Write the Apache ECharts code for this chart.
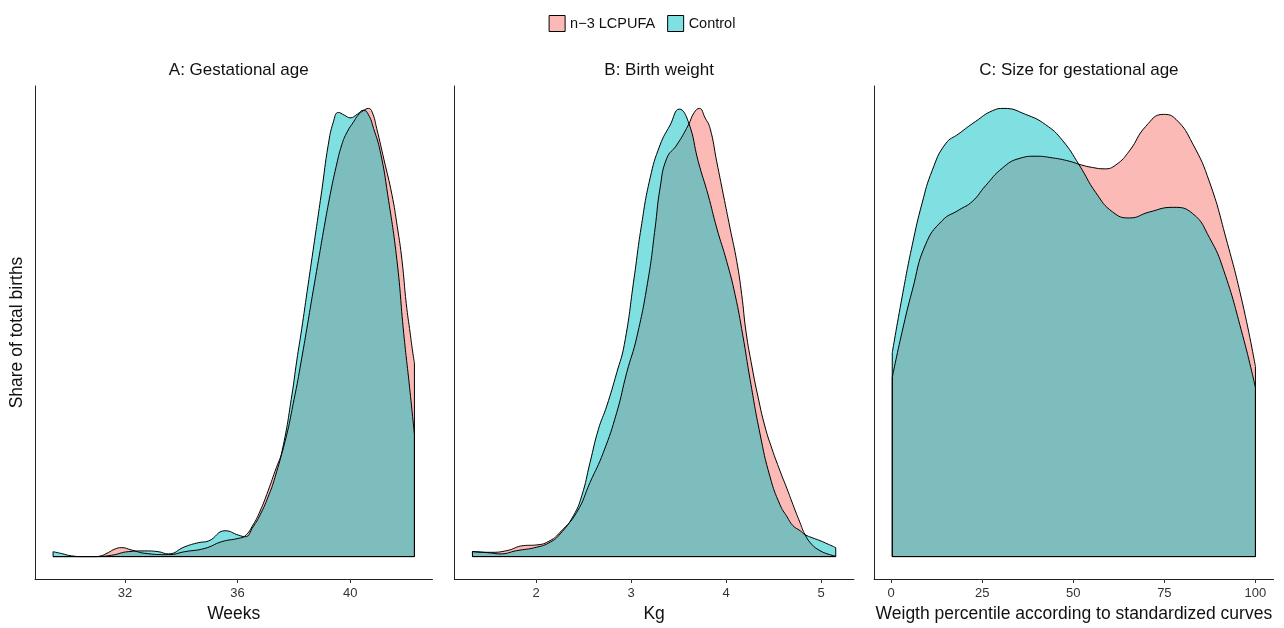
<!DOCTYPE html>
<html><head><meta charset="utf-8">
<script src="https://cdn.jsdelivr.net/npm/echarts@6/dist/echarts.min.js"></script>
<style>html,body{margin:0;padding:0;background:#fff}#c{width:1284px;height:628px}</style>
</head><body><div id="c"></div>
<script>
// ---- data ----
const seriesNames = ['n\u22123 LCPUFA', 'Control'];
const panelTitles = ['A: Gestational age', 'B: Birth weight', 'C: Size for gestational age'];
const xAxisTitles = ['Weeks', 'Kg', 'Weigth percentile according to standardized curves'];
const yAxisTitle = 'Share of total births';
const ticksA = [32, 36, 40];
const ticksB = [2, 3, 4, 5];
const ticksC = [0, 25, 50, 75, 100];

// A: gestational age (weeks, density)
const gaN3 = [[29.45,0],[30.93,0],[31.11,0.0003],[31.41,0.0027],[31.64,0.0050],[31.88,0.0060],[32.24,0.0044],[32.71,0.0022],[33.54,0.0013],[34.13,0.0033],[34.84,0.0055],[35.44,0.0100],[36.03,0.0122],[36.27,0.0139],[36.55,0.0212],[36.80,0.0305],[37.08,0.0438],[37.33,0.0571],[37.63,0.0730],[38.04,0.1084],[38.28,0.1330],[38.46,0.1527],[38.65,0.1740],[38.87,0.1981],[39.08,0.2210],[39.29,0.2424],[39.50,0.2610],[39.70,0.2756],[39.89,0.2842],[40.12,0.2910],[40.28,0.2955],[40.47,0.2985],[40.65,0.3000],[40.78,0.2975],[40.94,0.2866],[41.20,0.2656],[41.48,0.2424],[41.67,0.2210],[41.84,0.1981],[41.99,0.1693],[42.13,0.1494],[42.20,0.1394],[42.28,0.1295]];
const gaControl = [[29.45,0.0033],[29.76,0.0020],[30.10,0.0005],[30.51,0],[30.93,0],[31.53,0.0009],[32.12,0.0033],[32.71,0.0038],[33.18,0.0033],[33.54,0.0018],[34.13,0.0066],[34.61,0.0093],[34.96,0.0104],[35.56,0.0173],[36.03,0.0144],[36.27,0.0133],[36.55,0.0199],[36.80,0.0279],[37.08,0.0398],[37.33,0.0531],[37.63,0.0750],[37.93,0.1082],[38.10,0.1308],[38.28,0.1527],[38.47,0.1774],[38.68,0.2047],[38.99,0.2450],[39.22,0.2756],[39.40,0.2908],[39.58,0.2973],[39.79,0.2955],[40.00,0.2937],[40.25,0.2961],[40.47,0.2988],[40.64,0.2961],[40.83,0.2866],[41.07,0.2709],[41.33,0.2424],[41.66,0.1981],[41.90,0.1494],[42.11,0.1130],[42.28,0.0817]];

// B: birth weight (kg, density)
const bwN3 = [[1.33,0.0095],[1.516,0.0081],[1.692,0.0113],[1.866,0.0208],[2.007,0.0221],[2.147,0.0303],[2.253,0.0461],[2.428,0.0840],[2.568,0.1407],[2.708,0.1974],[2.849,0.2731],[2.954,0.3487],[3.060,0.4160],[3.182,0.5283],[3.253,0.6229],[3.305,0.6985],[3.376,0.7553],[3.481,0.7804],[3.603,0.8182],[3.663,0.8415],[3.719,0.8498],[3.779,0.8320],[3.832,0.8120],[3.902,0.7488],[3.972,0.6859],[4.042,0.6229],[4.113,0.5597],[4.165,0.4968],[4.211,0.4255],[4.274,0.3593],[4.337,0.3026],[4.411,0.2458],[4.484,0.2042],[4.568,0.1626],[4.642,0.1286],[4.705,0.0983],[4.779,0.0643],[4.832,0.0416],[4.905,0.0227],[4.989,0.0113],[5.074,0.0047],[5.155,0.0009]];
const bwControl = [[1.33,0.0095],[1.516,0.0070],[1.621,0.0051],[1.797,0.0113],[2.007,0.0178],[2.147,0.0272],[2.253,0.0429],[2.393,0.0775],[2.481,0.1154],[2.568,0.1785],[2.656,0.2415],[2.744,0.2855],[2.849,0.3487],[2.929,0.4022],[3.032,0.5283],[3.105,0.6229],[3.200,0.7174],[3.305,0.7804],[3.411,0.8182],[3.508,0.8485],[3.603,0.8245],[3.708,0.7488],[3.811,0.6859],[3.902,0.6229],[4.007,0.5597],[4.095,0.4968],[4.176,0.4200],[4.253,0.3360],[4.358,0.2326],[4.463,0.1513],[4.568,0.0983],[4.642,0.0756],[4.705,0.0586],[4.779,0.0492],[4.832,0.0416],[4.905,0.0359],[4.989,0.0303],[5.074,0.0236],[5.155,0.0170]];

// C: size for gestational age (percentile, density)
const sgaN3 = [[0.3,0.0054],[3,0.00677],[5.8,0.00802],[9.4,0.00939],[14,0.01012],[18.6,0.01044],[22.3,0.0107],[25.9,0.01117],[30.5,0.0117],[35.1,0.01199],[39.7,0.01206],[44.3,0.01201],[48.9,0.01191],[52.1,0.0118],[55.3,0.01172],[58.5,0.01168],[61.7,0.0118],[65.4,0.01222],[69.9,0.01296],[74.7,0.01332],[78.2,0.01317],[82.8,0.01243],[87.4,0.01128],[91.9,0.0096],[96.5,0.00761],[100,0.00572]];
const sgaControl = [[0.3,0.00614],[3,0.00782],[5.8,0.00939],[8.5,0.01065],[11.3,0.01164],[14.9,0.01243],[18.6,0.01274],[23.2,0.01311],[27.8,0.01343],[31,0.0135],[36.9,0.01332],[42.4,0.01301],[47,0.01254],[51.6,0.0118],[56.2,0.01096],[60.8,0.01038],[65.4,0.0102],[70.9,0.01038],[77.3,0.01052],[82.8,0.01033],[87.4,0.0096],[91.2,0.00865],[96.5,0.00666],[100,0.00509]];

// ---- chart ----
const FONT = "'Liberation Sans', Arial, Helvetica, sans-serif";
const fills = ['rgba(248,118,109,0.5)', 'rgba(0,191,196,0.5)'];
const panels = [
  {n3: gaN3, ctrl: gaControl, ticks: ticksA},
  {n3: bwN3, ctrl: bwControl, ticks: ticksB},
  {n3: sgaN3, ctrl: sgaControl, ticks: ticksC}
];
const gridBoxes = [{left: 35, width: 397.5}, {left: 454.3, width: 399.6}, {left: 874.1, width: 399.5}];
const GRID_TOP = 86, GRID_H = 494;

const grid = [], xAxis = [], yAxis = [], series = [], title = [];
panels.forEach((p, i) => {
  const all = p.n3.concat(p.ctrl);
  const xs = all.map(d => d[0]), ys = all.map(d => d[1]);
  const xmin = Math.min(...xs), xmax = Math.max(...xs), ymax = Math.max(...ys);
  const xr = xmax - xmin;
  grid.push({left: gridBoxes[i].left, width: gridBoxes[i].width, top: GRID_TOP, height: GRID_H});
  title.push({
    text: panelTitles[i], left: gridBoxes[i].left + gridBoxes[i].width / 2, top: 57, textAlign: 'center',
    textStyle: {fontFamily: FONT, fontSize: 17, fontWeight: 'normal', color: '#111'}
  });
  xAxis.push({
    gridIndex: i, type: 'value', min: xmin - 0.05 * xr, max: xmax + 0.05 * xr,
    name: xAxisTitles[i], nameLocation: 'middle', nameGap: 26,
    nameTextStyle: {fontFamily: FONT, fontSize: 17.5, color: '#111'},
    axisLine: {onZero: false, lineStyle: {color: '#222', width: 1}},
    axisTick: {show: true, length: 4, customValues: p.ticks, lineStyle: {color: '#333', width: 1}},
    axisLabel: {customValues: p.ticks, margin: 8, fontFamily: FONT, fontSize: 13, color: '#333'},
    splitLine: {show: false}
  });
  yAxis.push({
    gridIndex: i, type: 'value', min: -0.05 * ymax, max: 1.05 * ymax,
    name: i === 0 ? yAxisTitle : '', nameLocation: 'middle', nameGap: 9,
    nameTextStyle: {fontFamily: FONT, fontSize: 17.5, color: '#111'},
    axisLine: {show: true, onZero: false, lineStyle: {color: '#222', width: 1}},
    axisTick: {show: false}, axisLabel: {show: false}, splitLine: {show: false}
  });
  [p.n3, p.ctrl].forEach((d, k) => {
    series.push({
      name: seriesNames[k], type: 'line', xAxisIndex: i, yAxisIndex: i, data: d,
      smooth: 0.5, showSymbol: false, symbol: 'none', silent: true,
      lineStyle: {color: '#000', width: 1},
      itemStyle: {color: fills[k], borderColor: '#000', borderWidth: 1},
      areaStyle: {color: fills[k], opacity: 1}
    });
    const first = d[0], last = d[d.length - 1];
    series.push({
      name: 'edge' + i + k, type: 'line', xAxisIndex: i, yAxisIndex: i,
      data: [[first[0], first[1]], [first[0], 0], [last[0], 0], [last[0], last[1]]],
      showSymbol: false, symbol: 'none', silent: true,
      lineStyle: {color: '#000', width: 1}
    });
  });
});

const chart = echarts.init(document.getElementById('c'), null, {renderer: 'canvas'});
chart.setOption({
  animation: false,
  backgroundColor: '#fff',
  textStyle: {fontFamily: FONT},
  title: title,
  legend: {
    data: seriesNames.map((n, k) => ({name: n, itemStyle: {color: fills[k], borderColor: '#000', borderWidth: 1}})),
    top: 10, left: 'center', icon: 'rect', itemWidth: 16, itemHeight: 16, itemGap: 12,
    textStyle: {fontFamily: FONT, fontSize: 14.5, color: '#111'}, selectedMode: false
  },
  grid: grid, xAxis: xAxis, yAxis: yAxis, series: series
});
</script>
</body></html>
